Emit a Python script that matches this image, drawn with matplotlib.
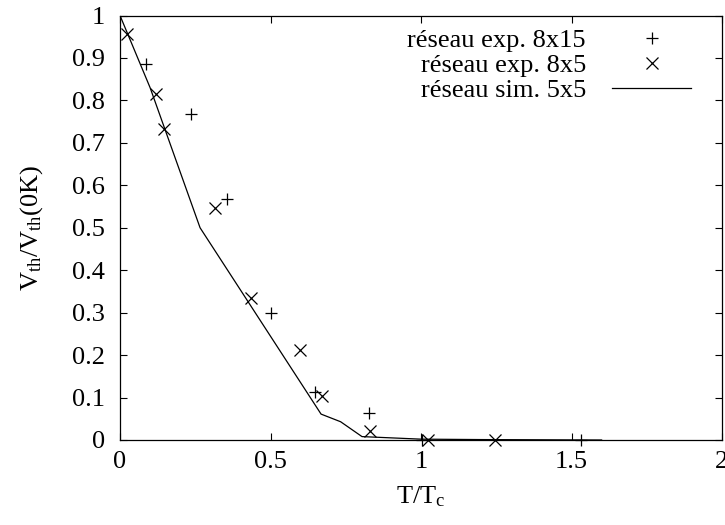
import matplotlib
matplotlib.use("Agg")
import matplotlib.pyplot as plt
from matplotlib.ticker import FuncFormatter

plt.rcParams['font.family'] = ['Liberation Serif', 'DejaVu Serif']
plt.rcParams['mathtext.fontset'] = 'custom'
plt.rcParams['mathtext.rm'] = 'Liberation Serif'
plt.rcParams['mathtext.it'] = 'Liberation Serif'

# measured threshold voltage, 8x15 array
t_8x15 = [0.087, 0.235, 0.355, 0.502, 0.649, 0.826, 1.004, 1.533]
v_8x15 = [0.886, 0.767, 0.568, 0.298, 0.114, 0.064, 0.0, 0.0]

# measured threshold voltage, 8x5 array
t_8x5 = [0.022, 0.120, 0.146, 0.314, 0.435, 0.599, 0.671, 0.832, 1.024, 1.245]
v_8x5 = [0.956, 0.815, 0.732, 0.547, 0.335, 0.212, 0.104, 0.022, 0.0, 0.0]

# simulated 5x5 array
t_sim = [0.0, 0.10, 0.266, 0.668, 0.733, 0.804, 1.0, 1.2, 1.4, 1.6]
v_sim = [1.0, 0.83, 0.50, 0.061, 0.043, 0.008, 0.002, 0.001, 0.0005, 0.0]

labels = ["réseau exp. 8x15", "réseau exp. 8x5", "réseau sim. 5x5"]
x_ticks = [0, 0.5, 1, 1.5, 2]
y_ticks = [0, 0.1, 0.2, 0.3, 0.4, 0.5, 0.6, 0.7, 0.8, 0.9, 1]

FS = 19

fig = plt.figure(figsize=(7.25, 5.25), dpi=100)
ax = fig.add_axes([120 / 725, 85 / 525, 602 / 725, 424.5 / 525])

ax.plot(t_8x15, v_8x15, linestyle='none', marker='+', markersize=9,
        markeredgewidth=0.9, color='black', clip_on=False, label=labels[0])
ax.plot(t_8x5, v_8x5, linestyle='none', marker='x', markersize=9,
        markeredgewidth=0.9, color='black', clip_on=False, label=labels[1])
ax.plot(t_sim, v_sim, color='black', linewidth=0.9, label=labels[2])

ax.set_xlim(0, 2)
ax.set_ylim(0, 1)
ax.set_xticks(x_ticks)
ax.set_yticks(y_ticks)
ax.xaxis.set_major_formatter(FuncFormatter(lambda v, p: f"{v:g}"))
ax.yaxis.set_major_formatter(FuncFormatter(lambda v, p: f"{v:g}"))
ax.tick_params(direction='in', length=5, width=0.8, top=True, right=True,
               labelsize=FS, colors='black')
ax.tick_params(axis='x', pad=8)
ax.tick_params(axis='y', pad=11)
for s in ax.spines.values():
    s.set_linewidth(0.9)

ax.set_xlabel(r"$\mathregular{T/T_c}$", fontsize=FS, labelpad=8)
ax.set_ylabel(r"$\mathregular{V_{th}/V_{th}(0K)}$", fontsize=FS, labelpad=19)

ax.legend(loc='upper right', bbox_to_anchor=(0.98, 1.012), frameon=False,
          markerfirst=False, fontsize=FS, handlelength=3.0,
          handletextpad=1.0, labelspacing=0.06, borderpad=0.2)

fig.savefig("out.png", dpi=100)
